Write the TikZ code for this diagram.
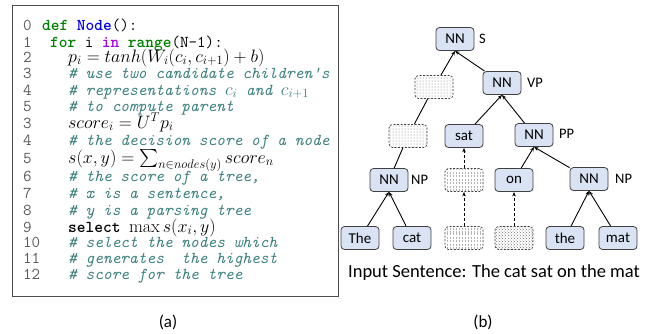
\RequirePackage{fix-cm}
\documentclass[tikz,border=0pt]{standalone}
\usepackage{amsmath,amssymb}
\usepackage{fontspec}
\newfontfamily\calfont{Carlito}
\usepackage{xcolor}
\usepackage{tikz}
\usetikzlibrary{arrows.meta,positioning,patterns}

\definecolor{kwgreen}{RGB}{0,128,0}
\definecolor{fnblue}{RGB}{0,0,235}
\definecolor{inpurple}{RGB}{170,0,230}
\definecolor{cmteal}{RGB}{60,128,128}
\definecolor{numgray}{RGB}{90,90,90}
\definecolor{nodefill}{RGB}{218,227,243}

\newcommand{\kw}[1]{\textcolor{kwgreen}{\textbf{#1}}}
\newcommand{\cmt}[1]{\textcolor{cmteal}{\itshape\#~#1}}
\newcommand{\lno}[2]{\makebox[#1][l]{\textcolor{numgray}{#2}}}
\newcommand{\mth}[1]{{\fontsize{18}{18}\selectfont$#1$}}

\begin{document}
\begin{tikzpicture}[
  x=1pt, y=-1pt,
  codeline/.style={anchor=base west, inner sep=0pt, font=\ttfamily\fontsize{16.6}{17}\selectfont},
  tnode/.style={draw=black!75, rounded corners=3.5pt, fill=nodefill, line width=0.8pt,
    minimum width=38pt, minimum height=23pt, inner sep=0pt, font=\calfont\fontsize{15}{16}\selectfont},
  ghost/.style={draw=black!75, dashed, dash pattern=on 2pt off 1.5pt, rounded corners=3.5pt,
    line width=0.7pt, minimum width=38pt, minimum height=23pt, inner sep=0pt, pattern=#1, pattern color=black!55},
  tag/.style={anchor=west, inner sep=0pt, font=\calfont\fontsize{14.5}{15}\selectfont},
  arrow/.style={-{Stealth[length=4.5pt,width=3.5pt]}, line width=0.9pt},
  link/.style={line width=0.9pt},
  darrow/.style={-{Stealth[length=4.5pt,width=3.5pt]}, line width=0.8pt, dashed, dash pattern=on 3pt off 2pt},
]
\useasboundingbox (0,0) rectangle (665,333);

%% ---- (a) code listing ----
\draw[black!70, line width=0.8pt] (12,5) rectangle (338,296);
\node[codeline] (r0)  at (23,30)  {\lno{19pt}{0}\kw{def} \textcolor{fnblue}{\textbf{Node}}():};
\node[codeline] (r1)  at (23,47)  {\lno{27pt}{1}\kw{for} i \textcolor{inpurple}{\textbf{in}} \kw{range}(N-1):};
\node[codeline] (r2)  at (23,62)  {\lno{45pt}{2}\mth{p_i = tanh(W_i(c_i,c_{i+1})+b)}};
\node[codeline] (r3)  at (23,78)  {\lno{45pt}{3}\cmt{use two candidate children's}};
\node[codeline] (r4)  at (23,95)  {\lno{45pt}{4}\cmt{representations \mth{c_i} and \mth{c_{i+1}}}};
\node[codeline] (r5)  at (23,111) {\lno{45pt}{5}\cmt{to compute parent}};
\node[codeline] (r6)  at (23,128) {\lno{45pt}{3}\mth{score_i = U^T p_i}};
\node[codeline] (r7)  at (23,145) {\lno{45pt}{4}\cmt{the decision score of a node}};
\node[codeline] (r8)  at (23,163) {\lno{45pt}{5}\mth{s(x,y) = \sum_{n\in nodes(y)} score_n}};
\node[codeline] (r9)  at (23,181) {\lno{45pt}{6}\cmt{the score of a tree,}};
\node[codeline] (r10) at (23,198) {\lno{45pt}{7}\cmt{x is a sentence,}};
\node[codeline] (r11) at (23,215) {\lno{45pt}{8}\cmt{y is a parsing tree}};
\node[codeline] (r12) at (23,232) {\lno{45pt}{9}\textbf{select} \mth{\max s(x_i,y)}};
\node[codeline] (r13) at (23,247) {\lno{45pt}{10}\cmt{select the nodes which}};
\node[codeline] (r14) at (23,263) {\lno{45pt}{11}\cmt{generates~~the highest}};
\node[codeline] (r15) at (23,279) {\lno{45pt}{12}\cmt{score for the tree}};

%% ---- (b) parse tree ----
\node[tnode] (s)    at (455,39)  {NN};
\node[ghost=dots] (d1) at (434,87) {};
\node[tnode] (vp)   at (502,83)  {NN};
\node[ghost=dots] (d2) at (408,136) {};
\node[tnode] (sat)  at (464,136) {sat};
\node[tnode] (pp)   at (534,135) {NN};
\node[tnode] (np1)  at (389,180) {NN};
\node[ghost=vertical lines, pattern color=black!30] (v1) at (464,180) {};
\node[tnode] (on)   at (514,180) {on};
\node[tnode] (np2)  at (589,179) {NN};
\node[tnode] (The)  at (360,238) {The};
\node[tnode] (cat)  at (412,238) {cat};
\node[ghost=vertical lines, pattern color=black!30] (v2) at (464,238) {};
\node[ghost=crosshatch dots] (d3) at (514,238) {};
\node[tnode] (the)  at (565,238) {the};
\node[tnode] (mat)  at (618,238) {mat};

\node[tag] (ls)  at (479,39)  {S};
\node[tag] (lvp) at (527,83)  {VP};
\node[tag] (lpp) at (559,134) {PP};
\node[tag] (ln1) at (411,180) {NP};
\node[tag] (ln2) at (615,179) {NP};

\draw[arrow] (The) -- (np1.south);
\draw[arrow] (cat) -- (np1.south);
\draw[arrow] (the) -- (np2.south);
\draw[arrow] (mat) -- (np2.south);
\draw[arrow] (on)  -- (pp.south);
\draw[arrow] (np2) -- (pp.south);
\draw[arrow] (sat) -- (vp.south);
\draw[arrow] (pp)  -- (vp.south);
\draw[arrow] (vp)  -- (s.south);
\draw[arrow] (d1)  -- (s.south);
\draw[link] (np1) -- (d2);
\draw[link] (d2)  -- (d1);
\draw[darrow] (v2) -- (v1);
\draw[darrow] (v1) -- (sat);
\draw[darrow] (d3) -- (on);

\node[font=\calfont\fontsize{18.5}{19}\selectfont] (sent) at (494,273) {Input Sentence: The cat sat on the mat};

%% ---- captions ----
\node[font=\calfont\fontsize{17}{18}\selectfont] (capa) at (168,322) {(a)};
\node[font=\calfont\fontsize{17}{18}\selectfont] (capb) at (483,322) {(b)};
\end{tikzpicture}
\end{document}
